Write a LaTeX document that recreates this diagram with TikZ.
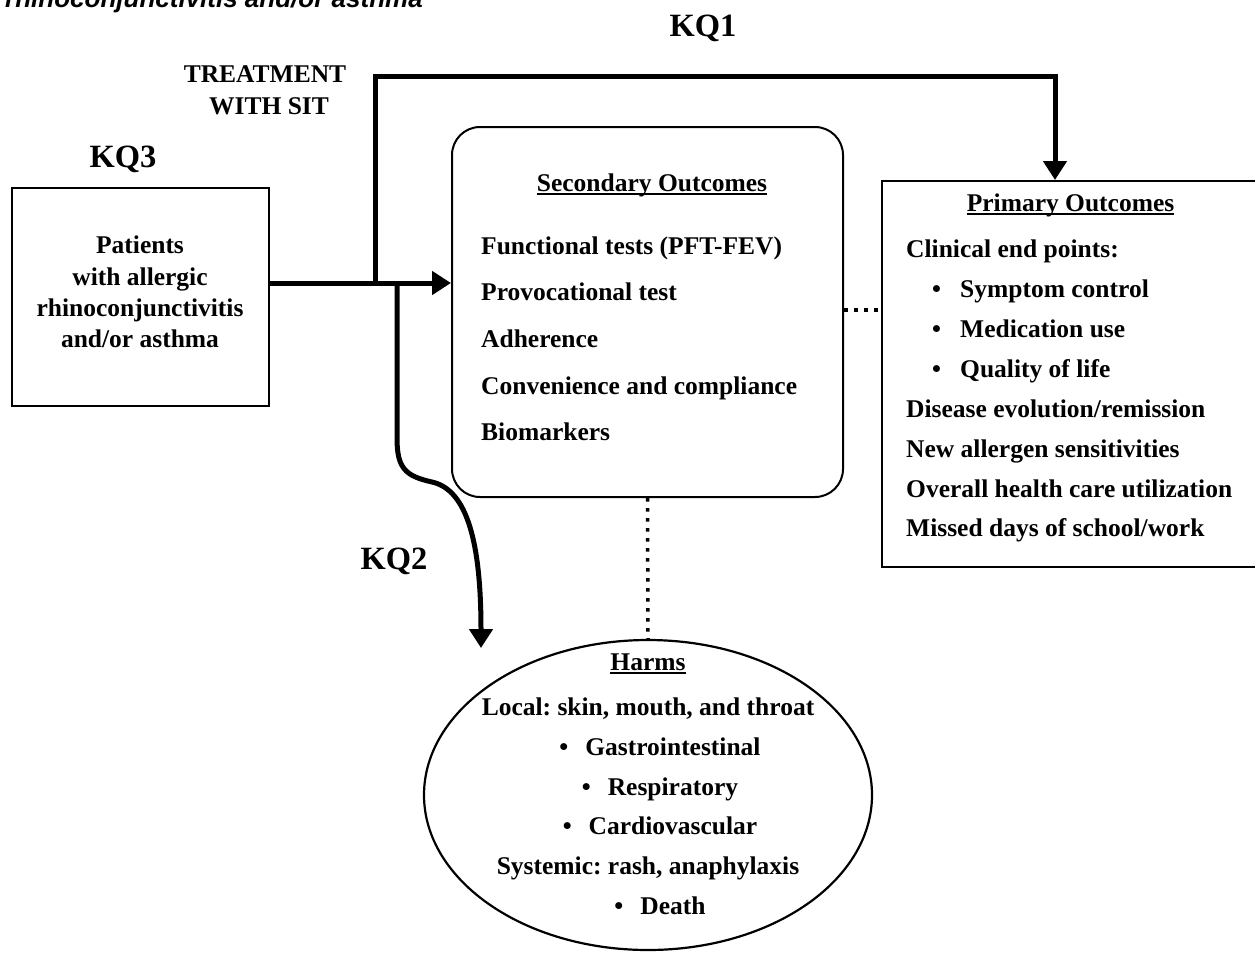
\documentclass[tikz,border=0pt]{standalone}
\usepackage{fontspec}
\setmainfont{Liberation Serif}
\newfontfamily\captionsans{Liberation Sans}
\usetikzlibrary{positioning,arrows.meta,shapes.geometric}
\frenchspacing

\begin{document}
\begin{tikzpicture}[x=1pt,y=-1pt,
	txt/.style={inner sep=0pt, font=\fontsize{25.5}{30}\selectfont\bfseries},
	kqlabel/.style={inner sep=0pt, font=\fontsize{32.5}{38}\selectfont\bfseries},
	squabox/.style={rectangle, draw=black, line width=2pt, inner sep=0pt},
	roundbox/.style={rectangle, rounded corners=28pt, draw=black, line width=2pt, inner sep=0pt},
	ovalbox/.style={ellipse, draw=black, line width=2.2pt, inner sep=0pt},
	kqarrow/.style={line width=5pt, -{Triangle[length=19pt,width=23pt]}},
	dotline/.style={line width=3.5pt, dash pattern=on 3.5pt off 6.5pt},
	ulbar/.style={line width=1.8pt},
	]
	\useasboundingbox (0,0) rectangle (1255,964);
	
	%Caption remnant
	\node[anchor=base west, inner sep=0pt, font=\captionsans\fontsize{26}{30}\selectfont\bfseries\itshape] (figcaption) at (5,7) {rhinoconjunctivitis and/or asthma};
	
	%Boxes
	\node[squabox, minimum width=257pt, minimum height=218pt] (patients) at (140.5,297) {};
	\node[roundbox, minimum width=391pt, minimum height=370pt] (secbox) at (647.5,312) {};
	\node[squabox, minimum width=383pt, minimum height=386pt] (primbox) at (1073.5,374) {};
	\node[ovalbox, minimum width=448pt, minimum height=310pt] (harms) at (648,795) {};
	
	%Labels
	\node[kqlabel, anchor=base] (kqone) at (703,36) {KQ1};
	\node[kqlabel, anchor=base] (kqthree) at (123,167) {KQ3};
	\node[kqlabel, anchor=base] (kqtwo) at (394,569) {KQ2};
	\node[txt, anchor=base] (treatA) at (265,82) {TREATMENT};
	\node[txt, anchor=base] (treatB) at (269,114) {WITH SIT};
	
	%Patients text
	\node[txt, anchor=base] (patA) at (140,253) {Patients};
	\node[txt, anchor=base] (patB) at (140,285) {with allergic};
	\node[txt, anchor=base] (patC) at (140,316) {rhinoconjunctivitis};
	\node[txt, anchor=base] (patD) at (140,347) {and/or asthma};
	
	%Secondary outcomes text
	\node[txt, anchor=base] (sectitle) at (652,191) {Secondary Outcomes};
	\node[txt, anchor=base west] (secA) at (481,254) {Functional tests (PFT-FEV)};
	\node[txt, anchor=base west] (secB) at (481,300) {Provocational test};
	\node[txt, anchor=base west] (secC) at (481,347) {Adherence};
	\node[txt, anchor=base west] (secD) at (481,394) {Convenience and compliance};
	\node[txt, anchor=base west] (secE) at (481,440) {Biomarkers};
	
	%Primary outcomes text
	\node[txt, anchor=base] (primtitle) at (1070.5,211) {Primary Outcomes};
	\node[txt, anchor=base west] (primA) at (906,257) {Clinical end points:};
	\node[txt, anchor=base west] (primB) at (932,297) {\makebox[28pt][l]{\textbullet}Symptom control};
	\node[txt, anchor=base west] (primC) at (932,337) {\makebox[28pt][l]{\textbullet}Medication use};
	\node[txt, anchor=base west] (primD) at (932,377) {\makebox[28pt][l]{\textbullet}Quality of life};
	\node[txt, anchor=base west] (primE) at (906,417) {Disease evolution/remission};
	\node[txt, anchor=base west] (primF) at (906,457) {New allergen sensitivities};
	\node[txt, anchor=base west] (primG) at (906,497) {Overall health care utilization};
	\node[txt, anchor=base west] (primH) at (906,536) {Missed days of school/work};
	
	%Harms text
	\node[txt, anchor=base] (harmtitle) at (648,670) {Harms};
	\node[txt, anchor=base] (harmA) at (648,715) {Local: skin, mouth, and throat};
	\node[txt, anchor=base] (harmB) at (660,755) {\textbullet\hspace{17pt}Gastrointestinal};
	\node[txt, anchor=base] (harmC) at (660,795) {\textbullet\hspace{17pt}Respiratory};
	\node[txt, anchor=base] (harmD) at (660,834) {\textbullet\hspace{17pt}Cardiovascular};
	\node[txt, anchor=base] (harmE) at (648,874) {Systemic: rash, anaphylaxis};
	\node[txt, anchor=base] (harmF) at (660,914) {\textbullet\hspace{17pt}Death};
	
	%Underlines
	\draw[ulbar] ([yshift=-3pt]sectitle.base west) -- ([yshift=-3pt]sectitle.base east);
	\draw[ulbar] ([yshift=-3pt]primtitle.base west) -- ([yshift=-3pt]primtitle.base east);
	\draw[ulbar] ([yshift=-3pt]harmtitle.base west) -- ([yshift=-3pt]harmtitle.base east);
	
	%Lines
	\coordinate (split) at (375,283);
	\coordinate (branch) at (397,283);
	\coordinate (kqtop) at (1055,76);
	\coordinate (kqtwoend) at (481,648);
	\coordinate (dotmid) at (862,310);
	\draw[kqarrow] (patients.east |- split) -- (secbox.west |- split);
	\draw[kqarrow] (split) |- (kqtop) -- (kqtop |- primbox.north);
	\draw[kqarrow] (branch) -- (397,438) .. controls (397,468) and (405,476) .. (432,482) .. controls (468,490) and (481,545) .. (kqtwoend);
	\draw[dotline] (secbox.east |- dotmid) -- (primbox.west |- dotmid);
	\draw[dotline] (secbox.south) -- (harms.north);
	
\end{tikzpicture}
\end{document}
